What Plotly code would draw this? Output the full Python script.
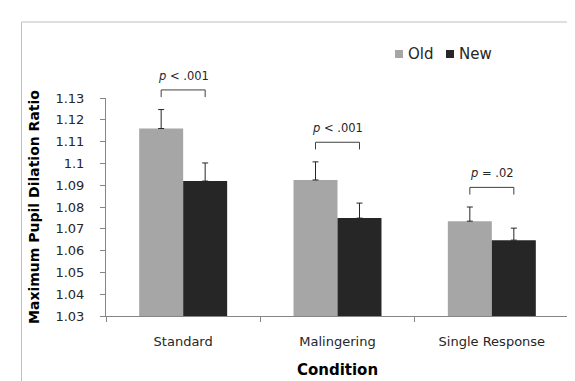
import plotly.graph_objects as go

categories = ["Standard", "Malingering", "Single Response"]
series_names = ["Old", "New"]
old_vals = [1.116, 1.0924, 1.0735]
old_err = [0.0087, 0.0083, 0.0065]
new_vals = [1.0919, 1.0749, 1.0648]
new_err = [0.0083, 0.0069, 0.0055]
p_labels = ["<i>p</i> < .001", "<i>p</i> < .001", "<i>p</i> = .02"]
y_ticks = [1.03, 1.04, 1.05, 1.06, 1.07, 1.08, 1.09, 1.10, 1.11, 1.12, 1.13]
y_tick_labels = ["1.03", "1.04", "1.05", "1.06", "1.07", "1.08", "1.09", "1.1", "1.11", "1.12", "1.13"]

Y_MIN, Y_MAX = 1.03, 1.13
BODY_FONT = "DejaVu Sans"
TEXT_COL = "#262626"
COLORS = ["#a6a6a6", "#262626"]

# plot-area geometry in pixels (for paper-coordinate conversions)
W, H = 575, 381
ML, MR, MT, MB = 98, 14, 90, 73
PW, PH = W - ML - MR, H - MT - MB


def px_x(px):
    return (px - ML) / PW


def px_y(py):
    return (H - MB - py) / PH


fig = go.Figure()
for name, vals, errs, col in [(series_names[0], old_vals, old_err, COLORS[0]),
                              (series_names[1], new_vals, new_err, COLORS[1])]:
    fig.add_trace(go.Bar(
        name=name, x=categories, y=vals,
        marker=dict(color=col, line=dict(width=0)),
        error_y=dict(type="data", array=errs, symmetric=False, arrayminus=[0] * len(errs),
                     color="#262626", thickness=1, width=3),
        showlegend=False,
    ))

bargap = 0.43
half = (1 - bargap) / 4  # center offset of each bar within its group


def to_paper(v):
    return (v - Y_MIN) / (Y_MAX - Y_MIN)


for i, lab in enumerate(p_labels):
    top = max(old_vals[i] + old_err[i], new_vals[i] + new_err[i])
    yb = top + 0.009
    leg = yb - 0.0033
    x0, x1 = i - half, i + half
    fig.add_shape(type="path",
                  path=f"M {x0},{to_paper(leg)} L {x0},{to_paper(yb)} L {x1},{to_paper(yb)} L {x1},{to_paper(leg)}",
                  xref="x", yref="paper", line=dict(color="#404040", width=1))
    fig.add_annotation(x=i, y=to_paper(yb + 0.0065), xref="x", yref="paper",
                       text=lab, showarrow=False, yanchor="middle",
                       font=dict(family=BODY_FONT, size=11.5, color=TEXT_COL))

# legend (drawn as swatches + labels)
legend_square_px = [387, 438]
for name, col, sx in zip(series_names, COLORS, legend_square_px):
    fig.add_shape(type="rect", xref="paper", yref="paper",
                  x0=px_x(sx), x1=px_x(sx + 8), y0=px_y(50), y1=px_y(42),
                  line=dict(width=0), fillcolor=col)
    fig.add_annotation(x=px_x(sx + 11), y=px_y(46), xref="paper", yref="paper",
                       text=name, showarrow=False, xanchor="left", yanchor="middle",
                       font=dict(family=BODY_FONT, size=15, color=TEXT_COL))

# outer border of the chart area
fig.add_shape(type="rect", xref="paper", yref="paper",
              x0=px_x(13.5), x1=px_x(600), y0=px_y(420), y1=px_y(14),
              line=dict(color="#bfbfbf", width=1), fillcolor="rgba(0,0,0,0)")

fig.update_layout(
    width=W, height=H,
    margin=dict(l=ML, r=MR, t=MT, b=MB),
    paper_bgcolor="white", plot_bgcolor="white",
    barmode="group", bargap=bargap, bargroupgap=0,
    showlegend=False,
    font=dict(family=BODY_FONT, color=TEXT_COL),
)
fig.update_xaxes(
    showline=True, linecolor="#868686", linewidth=1,
    ticks="outside", tickson="boundaries", ticklen=5, tickcolor="#868686",
    ticklabelstandoff=13,
    tickfont=dict(family=BODY_FONT, size=13, color=TEXT_COL),
    title=dict(text="<b>Condition</b>", font=dict(family=BODY_FONT, size=15, color="#000000"), standoff=16),
    showgrid=False, zeroline=False,
)
fig.update_yaxes(
    range=[Y_MIN, Y_MAX], tickvals=y_ticks, ticktext=y_tick_labels,
    showline=True, linecolor="#868686", linewidth=1,
    ticks="outside", ticklen=5, tickcolor="#868686",
    ticklabelstandoff=13,
    tickfont=dict(family=BODY_FONT, size=13, color=TEXT_COL),
    title=dict(text="<b>Maximum Pupil Dilation Ratio</b>", font=dict(family=BODY_FONT, size=14, color="#000000"), standoff=12),
    showgrid=False, zeroline=False,
)

fig.write_html("out.html")
